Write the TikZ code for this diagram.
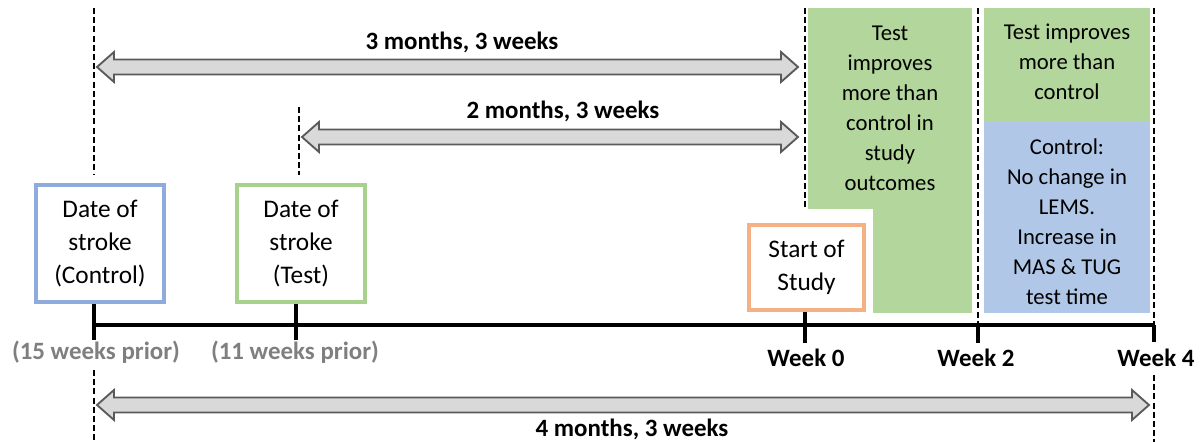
\documentclass[tikz,border=0pt]{standalone}
\usepackage{fontspec}
\setmainfont{Carlito}
\usetikzlibrary{calc}

\definecolor{ctrlblue}{HTML}{8FAADC}
\definecolor{testgreen}{HTML}{A9D18E}
\definecolor{studyorange}{HTML}{F4B183}
\definecolor{regiongreen}{HTML}{B2D69B}
\definecolor{regionblue}{HTML}{B1C7E8}
\definecolor{arrowfill}{HTML}{D9D9D9}
\definecolor{arrowedge}{HTML}{5A5A5A}
\definecolor{priorgray}{HTML}{7F7F7F}

% horizontal double-headed block arrow between two named points
\newcommand{\dblarrow}[2]{%
  \draw[blockarrow] (#1) -- ($(#1)+(17,-15)$) -- ($(#1)+(17,-7.5)$)
    -- ($(#2)+(-17,-7.5)$) -- ($(#2)+(-17,-15)$) -- (#2)
    -- ($(#2)+(-17,15)$) -- ($(#2)+(-17,7.5)$)
    -- ($(#1)+(17,7.5)$) -- ($(#1)+(17,15)$) -- cycle;}

\begin{document}
\begin{tikzpicture}[x=0.75pt,y=-0.75pt,
  guide/.style={line width=2pt, dash pattern=on 4.5pt off 2.4pt},
  axis/.style={line width=2.3pt},
  blockarrow/.style={fill=arrowfill, draw=arrowedge, line width=1.4pt, line join=miter},
  eventbox/.style={draw, line width=3pt, fill=white, align=center, inner sep=0pt,
    minimum width=96pt, minimum height=87.75pt,
    font=\fontsize{19pt}{24.75pt}\selectfont},
  regiontext/.style={align=center, inner sep=0pt, font=\fontsize{17pt}{22.5pt}\selectfont},
  spanlabel/.style={inner sep=0pt, font=\fontsize{18.7pt}{22pt}\selectfont\bfseries},
  ticklabel/.style={inner sep=0pt, font=\fontsize{18.7pt}{22pt}\selectfont\bfseries}]
\useasboundingbox (0,0) rectangle (1204,442);

% result periods
\fill[regiongreen] (808,8) rectangle (972,313);
\fill[white] (805,209) rectangle (873,313);
\fill[regiongreen] (984,8) rectangle (1150,122);
\fill[regionblue] (984,122) rectangle (1150,313);

\node[regiontext] (res1) at (890,108) {Test\\improves\\more than\\control in\\study\\outcomes};
\node[regiontext] (res2) at (1067,62) {Test improves\\more than\\control};
\node[regiontext] (res3) at (1067,222) {Control:\\No change in\\LEMS.\\Increase in\\MAS \& TUG\\test time};

% points on the time axis
\coordinate (t15) at (94,325);
\coordinate (t11) at (296,325);
\coordinate (w0) at (805,325);
\coordinate (w2) at (978,325);
\coordinate (w4) at (1154,325);

% event boxes
\node[eventbox, draw=ctrlblue] (ctrl) at (100,243.5) {Date of\\stroke\\(Control)};
\node[eventbox, draw=testgreen] (test) at (301,243.5) {Date of\\stroke\\(Test)};
\node[eventbox, draw=studyorange, minimum width=86.25pt, minimum height=63.75pt] (study) at (806.5,267.5) {Start of\\Study};

% dashed guides
\coordinate (g15a) at (94,8);   \coordinate (g15b) at (94,175);
\coordinate (g15c) at (94,370); \coordinate (g15d) at (94,442);
\coordinate (g11a) at (299,107); \coordinate (g11b) at (299,175);
\coordinate (g0a) at (805,8);   \coordinate (g0b) at (805,209);
\coordinate (g2a) at (978,8);
\coordinate (g4a) at (1154,8);
\coordinate (g4c) at (1154,375); \coordinate (g4d) at (1154,442);
\draw[guide] (g15a) -- (g15b);
\draw[guide] (g15c) -- (g15d);
\draw[guide] (g11a) -- (g11b);
\draw[guide] (g0a) -- (g0b);
\draw[guide] (g2a) -- (w2);
\draw[guide] (g4a) -- (w4);
\draw[guide] (g4c) -- (g4d);

% axis and ticks
\draw[axis] (t15) -- (w4);
\draw[axis] (t15 |- ctrl.south) -- ($(t15)+(0,15)$);
\draw[axis] (t11 |- test.south) -- ($(t11)+(0,15)$);
\draw[axis] (w0 |- study.south) -- ($(w0)+(0,18)$);
\draw[axis] (w2) -- ($(w2)+(0,18)$);
\draw[axis] (w4) -- ($(w4)+(0,17)$);

% tick labels
\node[ticklabel, text=priorgray] (l15) at (96,352) {(15 weeks prior)};
\node[ticklabel, text=priorgray] (l11) at (295,352) {(11 weeks prior)};
\node[ticklabel] (l0) at (806,358) {Week 0};
\node[ticklabel] (l2) at (976,358) {Week 2};
\node[ticklabel] (l4) at (1156,358) {Week 4};

% interval arrows
\coordinate (a1l) at (97,67);  \coordinate (a1r) at (798,67);
\coordinate (a2l) at (302,137); \coordinate (a2r) at (798,137);
\coordinate (a3l) at (97,405); \coordinate (a3r) at (1149,405);
\dblarrow{a1l}{a1r}
\dblarrow{a2l}{a2r}
\dblarrow{a3l}{a3r}
\node[spanlabel] (s1) at (462,42) {3 months, 3 weeks};
\node[spanlabel] (s2) at (563,111) {2 months, 3 weeks};
\node[spanlabel] (s3) at (632,429) {4 months, 3 weeks};
\end{tikzpicture}
\end{document}
